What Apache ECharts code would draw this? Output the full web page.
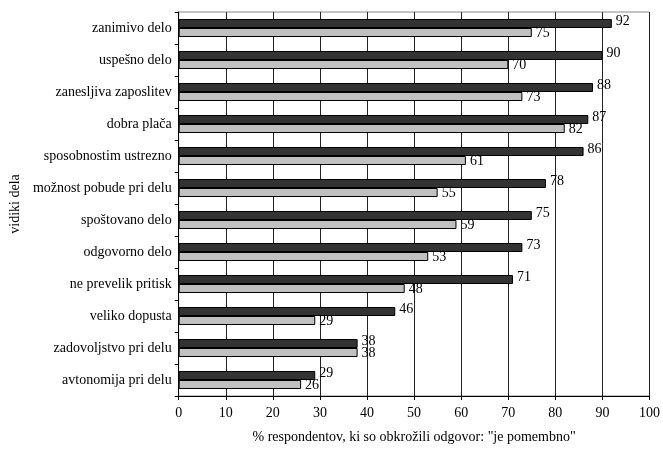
<!DOCTYPE html>
<html><head><meta charset="utf-8">
<script src="https://cdn.jsdelivr.net/npm/echarts@6/dist/echarts.min.js"></script>
<style>html,body{margin:0;padding:0;background:#fff}#c{width:663px;height:450px}</style>
</head><body><div id="c"></div>
<script>
var categories = ["zanimivo delo","uspešno delo","zanesljiva zaposlitev","dobra plača","sposobnostim ustrezno","možnost pobude pri delu","spoštovano delo","odgovorno delo","ne prevelik pritisk","veliko dopusta","zadovoljstvo pri delu","avtonomija pri delu"];
var seriesA = [92,90,88,87,86,78,75,73,71,46,38,29];
var seriesB = [75,70,73,82,61,55,59,53,48,29,38,26];
var xTicks = [0,10,20,30,40,50,60,70,80,90,100];
var xTitle = '% respondentov, ki so obkrožili odgovor: "je pomembno"';
var yTitle = 'vidiki dela';

var font = '"Liberation Serif", "Times New Roman", serif';
var chart = echarts.init(document.getElementById('c'));
chart.setOption({
  animation:false,
  textStyle:{fontFamily:font},
  grid:{left:178,right:11,top:12,bottom:54,show:true,borderColor:'#888',borderWidth:1},
  xAxis:{type:'value',min:xTicks[0],max:xTicks[xTicks.length-1],interval:10,
    name:xTitle,nameLocation:'middle',nameGap:34,
    nameTextStyle:{fontFamily:font,fontSize:14,color:'#000'},
    axisLine:{show:true,lineStyle:{color:'#000'}},
    axisTick:{show:true,length:4,lineStyle:{color:'#000'}},
    axisLabel:{fontFamily:font,fontSize:14,color:'#000',margin:10},
    splitLine:{show:true,lineStyle:{color:'#222',width:1}}},
  yAxis:{type:'category',data:categories,inverse:true,
    name:yTitle,nameLocation:'middle',nameGap:156,nameRotate:90,
    nameTextStyle:{fontFamily:font,fontSize:14,color:'#000'},
    axisLine:{show:true,lineStyle:{color:'#000'}},
    axisTick:{show:true,length:4,lineStyle:{color:'#000'}},
    axisLabel:{fontFamily:font,fontSize:14,color:'#000',margin:7},
    splitLine:{show:false}},
  series:[
    {type:'bar',data:seriesA,barWidth:9,barGap:'0%',
     itemStyle:{color:'#333333',borderColor:'#000',borderWidth:1},
     label:{show:true,position:'right',distance:4,offset:[0,-2],fontFamily:font,fontSize:14,color:'#000'}},
    {type:'bar',data:seriesB,barWidth:9,
     itemStyle:{color:'#c0c0c0',borderColor:'#000',borderWidth:1},
     label:{show:true,position:'right',distance:4,offset:[0,1],fontFamily:font,fontSize:14,color:'#000'}}
  ]
});
</script></body></html>
